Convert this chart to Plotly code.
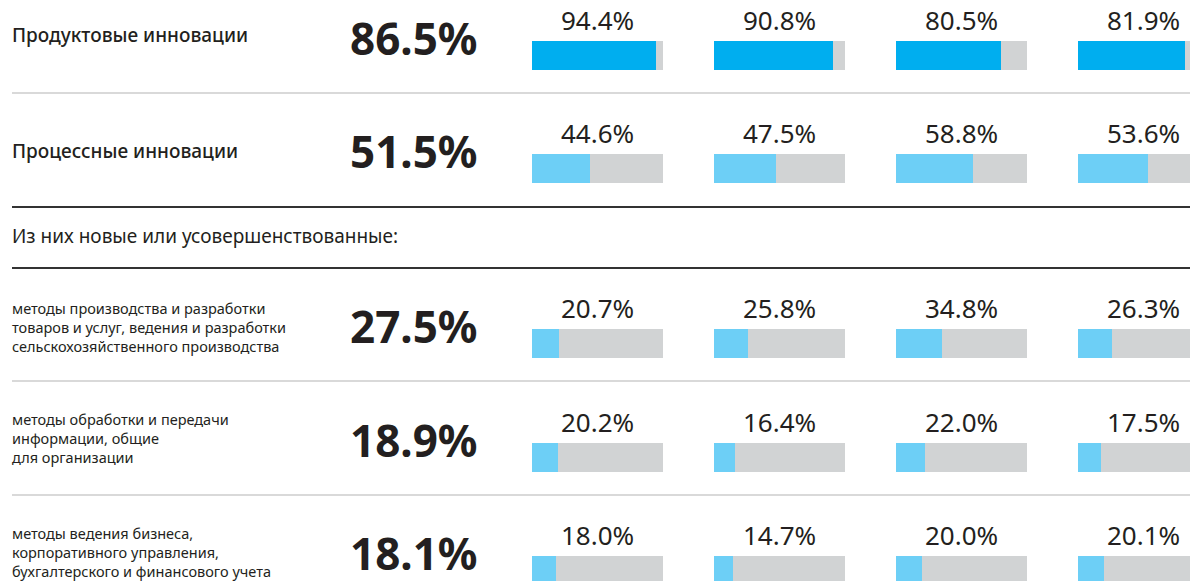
import plotly.graph_objects as go

# ---------------- data ----------------
row_labels = [
    "Продуктовые инновации",
    "Процессные инновации",
    "методы производства и разработки<br>товаров и услуг, ведения и разработки<br>сельскохозяйственного производства",
    "методы обработки и передачи<br>информации, общие<br>для организации",
    "методы ведения бизнеса,<br>корпоративного управления,<br>бухгалтерского и финансового учета",
]
totals = [86.5, 51.5, 27.5, 18.9, 18.1]
group_1 = [94.4, 44.6, 20.7, 20.2, 18.0]
group_2 = [90.8, 47.5, 25.8, 16.4, 14.7]
group_3 = [80.5, 58.8, 34.8, 22.0, 20.0]
group_4 = [81.9, 53.6, 26.3, 17.5, 20.1]
header_text = "Из них новые или усовершенствованные:"
scale_max = 100

# ---------------- layout constants (page pixels) ----------------
PAGE_W, PAGE_H = 1198, 581
OFF = 8  # default page margin around the plot div
W, H = PAGE_W - OFF, PAGE_H - OFF


def px(v):
    return v - OFF


col_left = [532, 714, 896, 1078]
TRACK_W = 131
BAR_H = 29
bar_top = [41, 154, 329, 443, 556]
label_center = [35, 151, 327, 438, 552]
label_size = [19, 19, 14.5, 14.5, 14.5]
TEXT = "#231F20"
TRACK = "#D1D3D4"
bar_colors = ["#00AEEF", "#6DCFF6", "#6DCFF6", "#6DCFF6", "#6DCFF6"]
FONT = "Noto Sans"

groups = [group_1, group_2, group_3, group_4]

fig = go.Figure()
layout_axes = {}
for c in range(4):
    left = px(col_left[c])
    right = min(left + TRACK_W, W)
    key = "xaxis" if c == 0 else f"xaxis{c + 1}"
    layout_axes[key] = dict(domain=[left / W, right / W],
                            range=[0, scale_max * (right - left) / TRACK_W],
                            visible=False, fixedrange=True)
for r in range(5):
    top = px(bar_top[r])
    bot = min(top + BAR_H, H)
    key = "yaxis" if r == 0 else f"yaxis{r + 1}"
    layout_axes[key] = dict(domain=[1 - bot / H, 1 - top / H],
                            range=[0.5 - (bot - top) / BAR_H, 0.5],
                            visible=False, fixedrange=True)

annotations = []
for r in range(5):
    yref = "y" if r == 0 else f"y{r + 1}"
    for c in range(4):
        xref = "x" if c == 0 else f"x{c + 1}"
        v = groups[c][r]
        fig.add_trace(go.Bar(x=[scale_max], y=[0], orientation="h", width=1,
                             marker=dict(color=TRACK, line=dict(width=0)),
                             xaxis=xref, yaxis=yref, showlegend=False, hoverinfo="skip"))
        fig.add_trace(go.Bar(x=[v], y=[0], orientation="h", width=1,
                             marker=dict(color=bar_colors[r], line=dict(width=0)),
                             xaxis=xref, yaxis=yref, showlegend=False, hoverinfo="skip"))
        annotations.append(dict(x=scale_max / 2, y=0.5, xref=xref, yref=yref,
                                text=f"{v:.1f}%", showarrow=False,
                                xanchor="center", yanchor="middle", yshift=21,
                                font=dict(family=FONT, size=26, color=TEXT)))
    # row label
    annotations.append(dict(x=px(10) / W, y=1 - px(label_center[r]) / H, xref="paper", yref="paper",
                            text=row_labels[r], showarrow=False, align="left",
                            xanchor="left", yanchor="middle",
                            font=dict(family=FONT, size=label_size[r], color=TEXT,
                                      weight=500 if r < 2 else 400)))
    # total
    annotations.append(dict(x=px(414) / W, y=1 - px(bar_top[r] - 3) / H, xref="paper", yref="paper",
                            text=f"{totals[r]:.1f}%", showarrow=False,
                            xanchor="center", yanchor="middle",
                            font=dict(family=FONT, size=44, color=TEXT, weight=700)))

annotations.append(dict(x=px(10) / W, y=1 - px(236) / H, xref="paper", yref="paper",
                        text=header_text, showarrow=False, xanchor="left", yanchor="middle",
                        font=dict(family=FONT, size=19, color=TEXT)))

shapes = []
for y, col in [(93, "#D9D9D9"), (207, "#333333"), (268, "#333333"), (381, "#D9D9D9"), (495, "#D9D9D9")]:
    shapes.append(dict(type="line", xref="paper", yref="paper", x0=px(12) / W, x1=1,
                       y0=1 - px(y) / H, y1=1 - px(y) / H, line=dict(color=col, width=2)))

fig.update_layout(width=W, height=H, autosize=False,
                  margin=dict(l=0, r=0, t=0, b=0, pad=0),
                  paper_bgcolor="white", plot_bgcolor="white",
                  barmode="overlay", bargap=0,
                  annotations=annotations, shapes=shapes, **layout_axes)

fig.write_html("out.html", config={"displayModeBar": False})
